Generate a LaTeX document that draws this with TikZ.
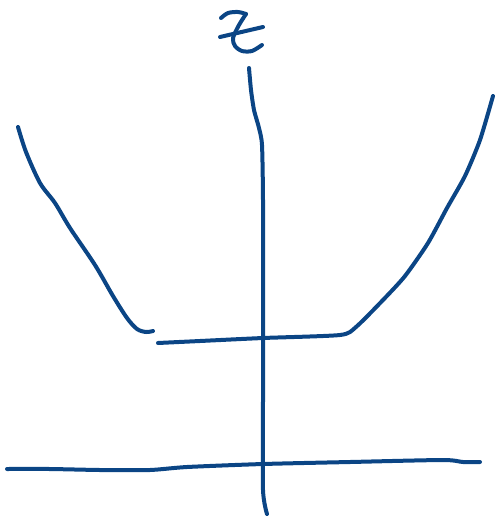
\documentclass[tikz,border=0pt]{standalone}
\definecolor{ink}{HTML}{0B4585}
\begin{document}
\begin{tikzpicture}[x=1pt,y=-1pt,
  stroke/.style={draw=ink,line width=4pt,line cap=round,line join=round}]
\useasboundingbox (0,0) rectangle (497,520);
% z label
\draw[stroke] plot[smooth,tension=0.5] coordinates {(221,18) (228,13) (238,12) (246,14)};
\draw[stroke] plot[smooth,tension=0.5] coordinates {(246,14) (239,25) (233,38) (235,46) (242,51) (252,51) (262,45)};
\draw[stroke] (220,37) -- (263,27);
% vertical axis
\draw[stroke] plot[smooth,tension=0.4] coordinates {(249,68) (251,90) (254,110) (259,128) (262,145) (263,200) (263,300) (263,400) (263,490) (267,514)};
% horizontal axis
\draw[stroke] plot[smooth,tension=0.4] coordinates {(7,469) (50,469) (100,470) (150,470) (187,467) (263,464) (350,462) (443,460) (463,462) (480,462)};
% left branch
\draw[stroke] plot[smooth,tension=0.5] coordinates {(18,127) (26,152) (40,183) (55,203) (70,228) (95,265) (113,296) (127,318) (137,329) (146,332) (153,331)};
% flat bottom and right branch
\draw[stroke] plot[smooth,tension=0.4] coordinates {(158,343) (200,341) (263,338) (340,335) (356,327) (383,300) (405,276) (428,243) (447,208) (465,176) (480,140) (493,96)};
\end{tikzpicture}
\end{document}
